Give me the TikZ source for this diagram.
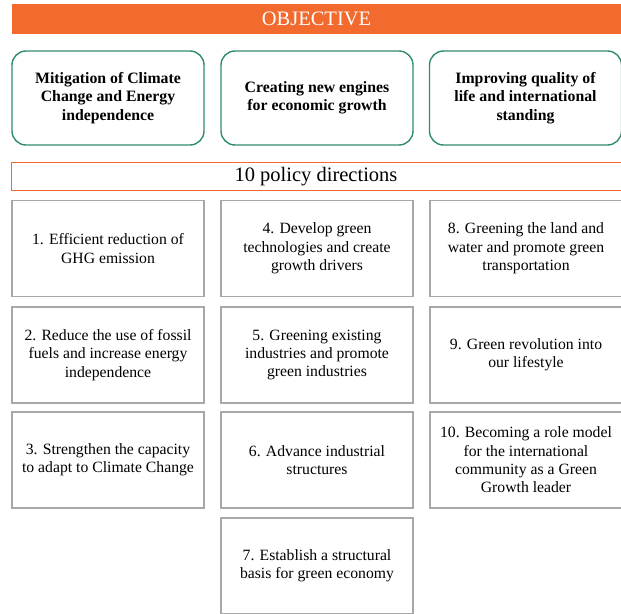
\documentclass[tikz,border=0pt]{standalone}
\usepackage{fontspec}
\newfontfamily\tnr{Liberation Serif}
\definecolor{objorange}{HTML}{F26A2E}
\definecolor{objgreen}{HTML}{2F8C6E}
\definecolor{boxgray}{HTML}{A8A8A8}
\begin{document}
\begin{tikzpicture}[x=1pt,y=-1pt,
  objbox/.style={draw=objgreen,line width=1.4pt,rounded corners=14pt,minimum width=192pt,minimum height=94pt,align=center,font=\tnr\fontsize{15.8}{18.5}\selectfont\bfseries,inner sep=0pt},
  polbox/.style={draw=boxgray,line width=1.5pt,minimum width=192pt,minimum height=96pt,align=center,font=\tnr\fontsize{15.7}{18.3}\selectfont,inner sep=0pt},
  ]
\useasboundingbox (0,0) rectangle (621,613);
\node[fill=objorange,minimum width=609pt,minimum height=30pt,inner sep=0pt,text=white,font=\tnr\fontsize{20.5}{24}\selectfont] (obj) at (316.5,19) {OBJECTIVE};
\node[objbox] (o1) at (108,98) {Mitigation of Climate\\Change and Energy\\independence};
\node[objbox] (o2) at (317,98) {Creating new engines\\for economic growth};
\node[objbox] (o3) at (525.5,98) {Improving quality of\\life and international\\standing};
\node[draw=objorange,line width=0.8pt,minimum width=610pt,minimum height=28.5pt,inner sep=0pt,font=\tnr\fontsize{20.5}{24}\selectfont] (ten) at (316,176.5) {10 policy directions};
\node[polbox] (p1) at (108,248.5) {1. Efficient reduction of\\GHG emission};
\node[polbox] (p2) at (108,355) {2. Reduce the use of fossil\\fuels and increase energy\\independence};
\node[polbox] (p3) at (108,460) {3. Strengthen the capacity\\to adapt to Climate Change};
\node[polbox] (p4) at (317,248.5) {4. Develop green\\technologies and create\\growth drivers};
\node[polbox] (p5) at (317,355) {5. Greening existing\\industries and promote\\green industries};
\node[polbox] (p6) at (317,460) {6. Advance industrial\\structures};
\node[polbox] (p7) at (317,566) {7. Establish a structural\\basis for green economy};
\node[polbox] (p8) at (526,248.5) {8. Greening the land and\\water and promote green\\transportation};
\node[polbox] (p9) at (526,355) {9. Green revolution into\\our lifestyle};
\node[polbox] (p10) at (526,460) {10. Becoming a role model\\for the international\\community as a Green\\Growth leader};
\end{tikzpicture}
\end{document}
